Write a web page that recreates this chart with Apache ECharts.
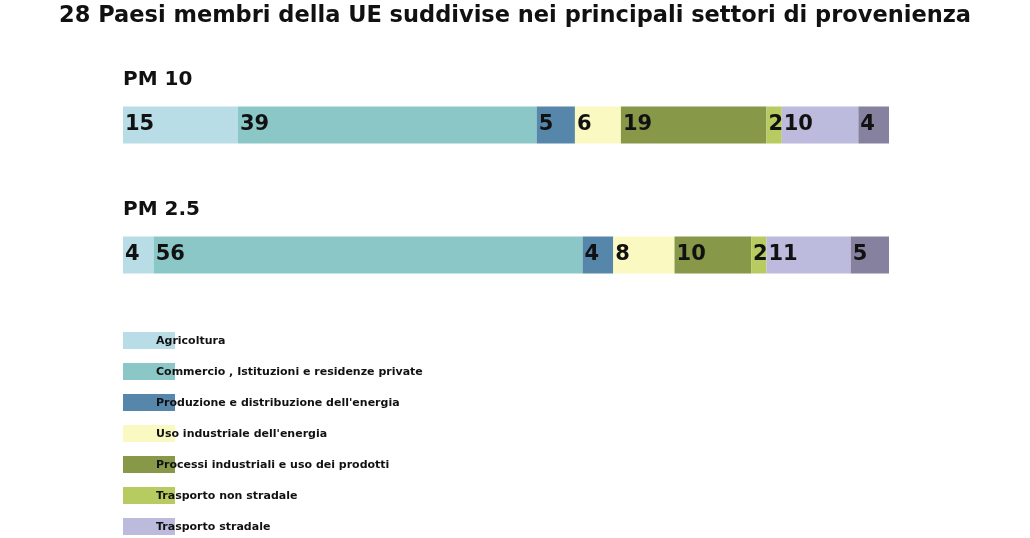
<!DOCTYPE html>
<html>
<head>
<meta charset="utf-8">
<script src="https://cdn.jsdelivr.net/npm/echarts@6/dist/echarts.min.js"></script>
<style>
  html, body { margin: 0; padding: 0; background: #fff; }
  #main { width: 1030px; height: 538px; }
</style>
</head>
<body>
<div id="main"></div>
<script>
var dom = document.getElementById("main");
var myChart = echarts.init(dom);

// data
var pollutants = ['PM 10', 'PM 2.5'];
var sectors = [
  'Agricoltura',
  'Commercio , Istituzioni e residenze private',
  "Produzione e distribuzione dell'energia",
  "Uso industriale dell'energia",
  'Processi industriali e uso dei prodotti',
  'Trasporto non stradale',
  'Trasporto stradale',
  'Rifiuti'
];
var pm10 = [15, 39, 5, 6, 19, 2, 10, 4];
var pm25 = [4, 56, 4, 8, 10, 2, 11, 5];
var colors = ['#b8dde6', '#8bc7c7', '#5687aa', '#fbf9c2', '#889849', '#b8cb60', '#bcbadd', '#85819f'];

var fontFam = 'DejaVu Sans';

var series = sectors.map(function (name, i) {
  return {
    name: name,
    type: 'bar',
    stack: 'tot',
    barWidth: 37,
    itemStyle: { color: colors[i] },
    label: {
      show: true,
      position: 'insideLeft',
      distance: 2,
      color: '#111',
      fontFamily: fontFam,
      fontWeight: 'bold',
      fontSize: 21
    },
    emphasis: { disabled: true },
    data: [pm10[i], pm25[i]]
  };
});

var option = {
  animation: false,
  title: {
    text: '28 Paesi membri della UE suddivise nei principali settori di provenienza',
    left: 'center',
    top: 0,
    textStyle: { fontFamily: fontFam, fontWeight: 'bold', fontSize: 22.5, color: '#111' }
  },
  grid: { left: 123, right: 141, top: 60, height: 260 },
  xAxis: { type: 'value', min: 0, max: 100, show: false },
  yAxis: {
    type: 'category',
    inverse: true,
    data: pollutants,
    axisLine: { show: false },
    axisTick: { show: false },
    z: 10,
    axisLabel: {
      inside: true,
      interval: 0,
      margin: 0,
      align: 'left',
      verticalAlign: 'middle',
      // push the name above its bar
      formatter: function (v) { return '{t|' + v + '}\n{gap| }'; },
      rich: {
        t: { color: '#111', fontFamily: fontFam, fontWeight: 'bold', fontSize: 20, lineHeight: 24 },
        gap: { fontSize: 10, lineHeight: 91 }
      }
    }
  },
  legend: [
    {
      // colour boxes
      orient: 'vertical',
      left: 123,
      top: 332,
      height: 280,
      padding: 0,
      itemWidth: 52,
      itemHeight: 17,
      itemGap: 14,
      icon: 'rect',
      data: sectors,
      selectedMode: false,
      formatter: function () { return ''; },
      textStyle: { fontSize: 11 }
    },
    {
      // texts, drawn over the boxes
      orient: 'vertical',
      left: 150,
      top: 333,
      height: 280,
      padding: 0,
      z: 10,
      itemWidth: 1,
      itemHeight: 17,
      itemGap: 17,
      icon: 'none',
      data: sectors,
      selectedMode: false,
      textStyle: { fontFamily: fontFam, fontWeight: 'bold', fontSize: 11, color: '#111' }
    }
  ],
  series: series
};

myChart.setOption(option);
</script>
</body>
</html>
